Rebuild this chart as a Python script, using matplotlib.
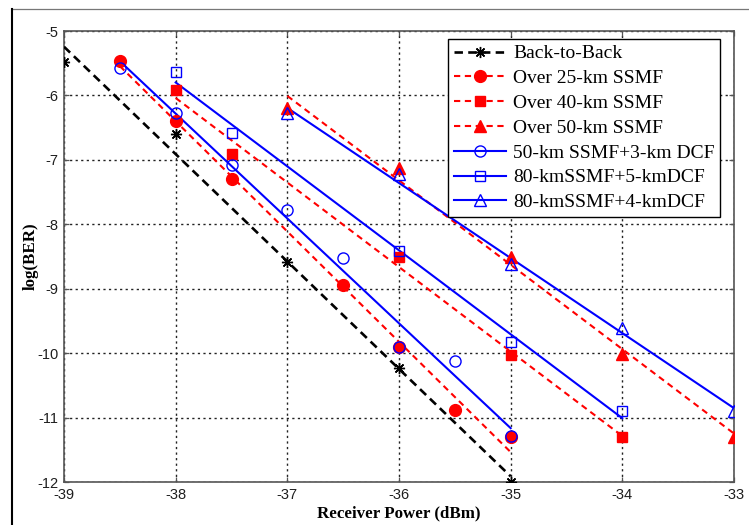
import numpy as np
import matplotlib
matplotlib.use("Agg")
import matplotlib.pyplot as plt
from matplotlib.lines import Line2D

# Measured BER curves: received optical power (dBm) vs log10(BER)
x_b2b = [-39, -38, -37, -36, -35]
y_b2b = [-5.48, -6.60, -8.58, -10.23, -12.0]

x_25 = [-38.5, -38, -37.5, -36.5, -36, -35.5, -35]
y_25 = [-5.47, -6.40, -7.30, -8.95, -9.90, -10.89, -11.30]

x_40 = [-38, -37.5, -36, -35, -34]
y_40 = [-5.92, -6.91, -8.50, -10.03, -11.30]

x_50 = [-37, -36, -35, -34, -33]
y_50 = [-6.20, -7.12, -8.50, -10.02, -11.30]

x_50dcf = [-38.5, -38, -37.5, -37, -36.5, -36, -35.5, -35]
y_50dcf = [-5.58, -6.27, -7.08, -7.78, -8.52, -9.90, -10.12, -11.28]

x_80dcf5 = [-38, -37.5, -36, -35, -34]
y_80dcf5 = [-5.64, -6.59, -8.42, -9.82, -10.90]

x_80dcf4 = [-37, -36, -35, -34, -33]
y_80dcf4 = [-6.27, -7.22, -8.62, -9.61, -10.90]

labels = ["Back-to-Back", "Over 25-km SSMF", "Over 40-km SSMF",
          "Over 50-km SSMF", "50-km SSMF+3-km DCF",
          "80-kmSSMF+5-kmDCF", "80-kmSSMF+4-kmDCF"]

x_ticks = [-39, -38, -37, -36, -35, -34, -33]
y_ticks = [-12, -11, -10, -9, -8, -7, -6, -5]

RED = "#ff0000"
BLUE = "#0000ff"
asterisk = (8, 2, 0)
dash_red = (0, (3.0, 2.2))
dash_blk = (0, (3.2, 2.0))

series = [
    (x_b2b, y_b2b, "black", dash_blk, asterisk, dict(ms=8, mfc="black", mec="black", mew=1.0), 1.9),
    (x_25, y_25, RED, dash_red, "o", dict(ms=8.5, mfc=RED, mec=RED, mew=1.0), 1.5),
    (x_40, y_40, RED, dash_red, "s", dict(ms=7, mfc=RED, mec=RED, mew=1.0), 1.5),
    (x_50, y_50, RED, dash_red, "^", dict(ms=8, mfc=RED, mec=RED, mew=1.0), 1.5),
    (x_50dcf, y_50dcf, BLUE, "-", "o", dict(ms=8, mfc="none", mec=BLUE, mew=1.0), 1.5),
    (x_80dcf5, y_80dcf5, BLUE, "-", "s", dict(ms=7, mfc="none", mec=BLUE, mew=1.0), 1.5),
    (x_80dcf4, y_80dcf4, BLUE, "-", "^", dict(ms=8, mfc="none", mec=BLUE, mew=1.0), 1.5),
]

fig = plt.figure(figsize=(7.49, 5.25), dpi=100)
ax = fig.add_axes([64 / 749, 1 - 482 / 525, 670 / 749, 451 / 525])

handles = []
for i, (xs, ys, col, ls, mk, mkw, lw) in enumerate(series):
    xs = np.asarray(xs, float)
    ys = np.asarray(ys, float)
    # least-squares straight-line fit over the measured range
    k, b = np.polyfit(xs, ys, 1)
    xf = np.array([xs.min(), xs.max()])
    ax.plot(xf, k * xf + b, color=col, ls=ls, lw=lw, zorder=3 + i)
    ax.plot(xs, ys, ls="none", marker=mk, zorder=10 + i, **mkw)
    handles.append(Line2D([], [], color=col, ls=ls, lw=lw, marker=mk, **mkw))

ax.set_xlim(-39, -33)
ax.set_ylim(-12, -5)
ax.set_xticks(x_ticks)
ax.set_yticks(y_ticks)
ax.set_xticklabels([str(t) for t in x_ticks])
ax.set_yticklabels([str(t) for t in y_ticks])

ax.grid(True, color="#222222", ls=(0, (1.6, 2.4)), lw=1.0)
ax.set_axisbelow(True)
for s in ax.spines.values():
    s.set_color("#555555")
    s.set_linewidth(1.2)

ax.tick_params(direction="in", length=3.5, width=0.9, color="#555555",
               top=True, right=True, pad=4,
               labelsize=10.5, labelcolor="#1e1e1e")
for lab in ax.get_xticklabels() + ax.get_yticklabels():
    lab.set_fontfamily("Liberation Sans")

ax.set_xlabel("Receiver Power (dBm)", fontfamily="Liberation Serif",
              fontweight="bold", fontsize=12.2, labelpad=3)
ax.set_ylabel("log(BER)", fontfamily="Liberation Serif",
              fontweight="bold", fontsize=12.2)
ax.yaxis.set_label_coords((39 - 64) / 670, 0.5)

leg = ax.legend(handles, labels, loc="upper left",
                bbox_to_anchor=((448 - 64) / 670, 1 - (39 - 31) / 451),
                borderaxespad=0, numpoints=1, handlelength=2.7,
                handletextpad=0.35, labelspacing=0.37, borderpad=0.3,
                fancybox=False, framealpha=1, edgecolor="black",
                prop={"family": "Liberation Serif", "size": 14})
leg.get_frame().set_linewidth(1.0)
leg.set_zorder(30)

# page frame lines along the top and left edge
fig.add_artist(Line2D([12 / 749, 1], [1 - 9 / 525, 1 - 9 / 525],
                      color="#777777", lw=0.9, transform=fig.transFigure))
fig.add_artist(Line2D([12 / 749, 12 / 749], [0, 1 - 9 / 525],
                      color="black", lw=1.5, transform=fig.transFigure))

fig.savefig("out.png", dpi=100)
